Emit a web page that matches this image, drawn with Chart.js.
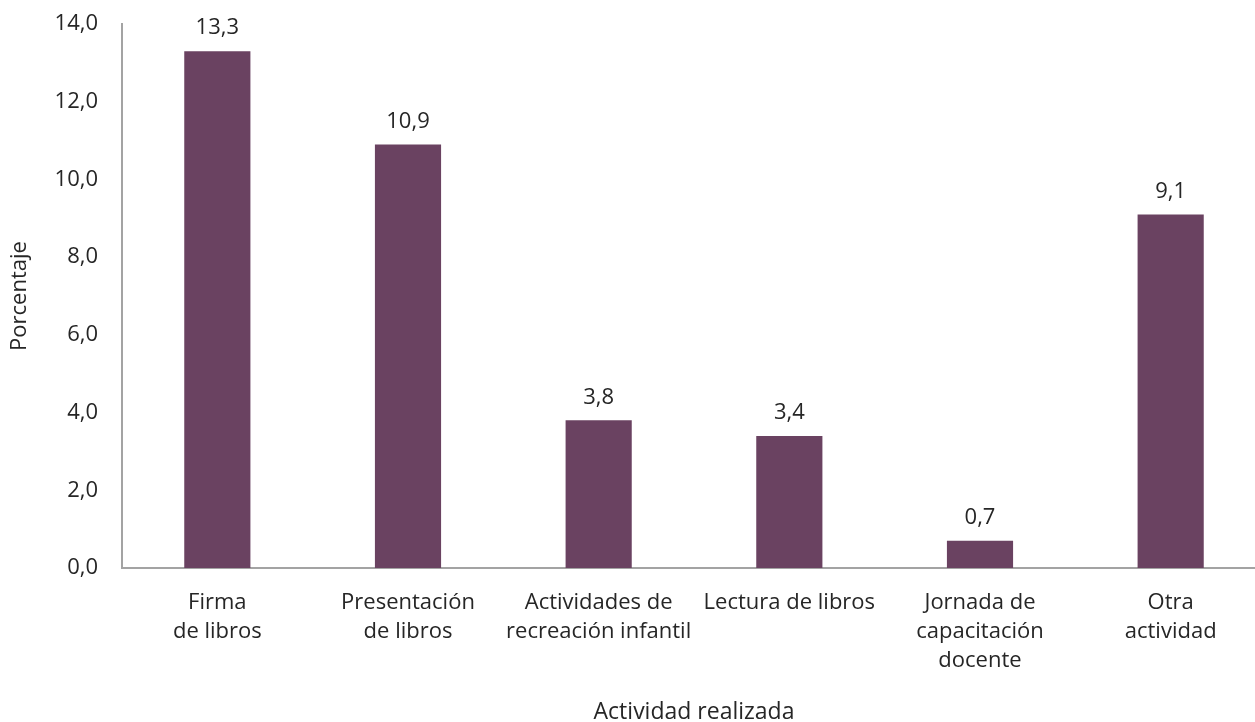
<!DOCTYPE html>
<html>
<head>
<meta charset="utf-8">
<script src="https://cdn.jsdelivr.net/npm/chart.js@4"></script>
<style>
  html, body { margin: 0; padding: 0; background: #fff; overflow: hidden; }
  #wrap { position: relative; width: 1266px; height: 722px; }
</style>
</head>
<body>
<div id="wrap"><canvas id="c"></canvas></div>
<script>
const categories = [
  ["Firma", "de libros"],
  ["Presentación", "de libros"],
  ["Actividades de", "recreación infantil"],
  ["Lectura de libros"],
  ["Jornada de", "capacitación", "docente"],
  ["Otra", "actividad"]
];
const values = [13.3, 10.9, 3.8, 3.4, 0.7, 9.1];
const yMin = 0, yMax = 14, yStep = 2;
const xTitle = "Actividad realizada";
const yTitle = "Porcentaje";

const FONT = "'Open Sans', sans-serif";
const TEXT = "#262626";
const FS = 22;
const fmt = v => v.toFixed(1).replace('.', ',');

const labelPlugin = {
  id: 'valueLabels',
  afterDatasetsDraw(chart) {
    const ctx = chart.ctx;
    const meta = chart.getDatasetMeta(0);
    ctx.save();
    ctx.font = FS + "px " + FONT;
    ctx.fillStyle = TEXT;
    ctx.textAlign = 'center';
    ctx.textBaseline = 'middle';
    meta.data.forEach((bar, i) => {
      ctx.fillText(fmt(values[i]), bar.x, bar.y - 23);
    });
    ctx.restore();
  }
};

new Chart(document.getElementById('c'), {
  type: 'bar',
  data: {
    labels: categories,
    datasets: [{
      data: values,
      backgroundColor: '#6a4261',
      barPercentage: 0.347,
      categoryPercentage: 1.0
    }]
  },
  options: {
    responsive: true,
    maintainAspectRatio: false,
    animation: false,
    layout: { padding: { top: 24, right: 0, bottom: 0, left: 0 } },
    plugins: { legend: { display: false }, tooltip: { enabled: false } },
    scales: {
      x: {
        grid: { display: false, drawTicks: false },
        border: { display: true, color: '#a3a3a3', width: 2 },
        ticks: {
          color: TEXT,
          font: { family: FONT, size: FS, lineHeight: 1.32 },
          padding: 20,
          maxRotation: 0,
          autoSkip: false
        },
        title: {
          display: true,
          text: xTitle,
          color: TEXT,
          font: { family: FONT, size: 23, lineHeight: 1.0 },
          padding: { top: 0, bottom: -2 }
        },
        afterFit(scale) { scale.height = 154; scale.paddingLeft = 0; scale.paddingRight = 0; }
      },
      y: {
        min: yMin,
        max: yMax,
        grid: { display: false, drawTicks: false },
        border: { display: true, color: '#a3a3a3', width: 2 },
        ticks: {
          stepSize: yStep,
          color: TEXT,
          font: { family: FONT, size: FS },
          padding: 24,
          callback: v => fmt(v)
        },
        title: {
          display: true,
          text: yTitle,
          color: TEXT,
          font: { family: FONT, size: FS, lineHeight: 1.0 },
          padding: { top: 9, bottom: 0 }
        },
        afterFit(scale) { scale.width = 122; scale.paddingTop = 0; scale.paddingBottom = 0; }
      }
    }
  },
  plugins: [labelPlugin]
});
</script>
</body>
</html>
